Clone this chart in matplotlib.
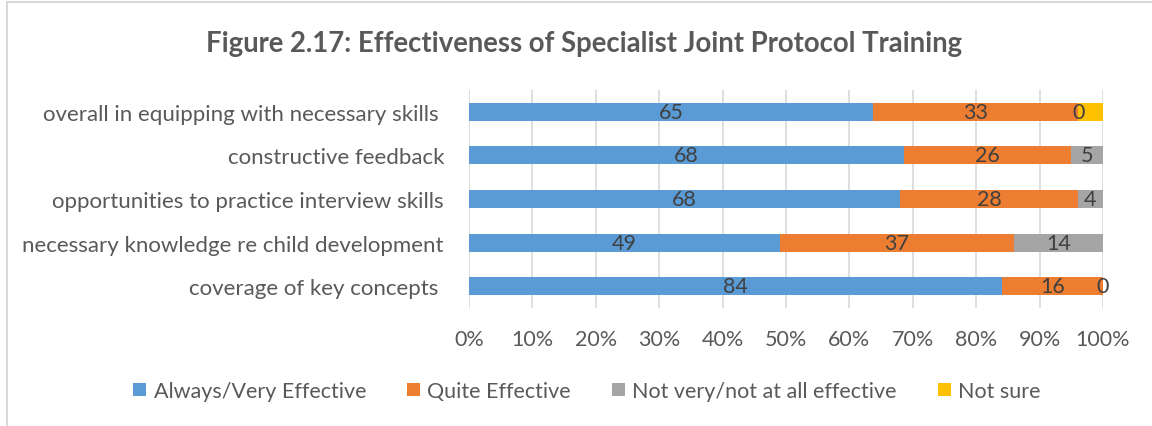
import matplotlib.pyplot as plt
import numpy as np
from matplotlib.patches import Rectangle

plt.rcParams["font.family"] = ["Lato", "DejaVu Sans"]

categories = [
    "coverage of key concepts ",
    "necessary knowledge re child development",
    "opportunities to practice interview skills",
    "constructive feedback",
    "overall in equipping with necessary skills ",
]
always_very = [84, 49, 68, 68, 65]
quite = [16, 37, 28, 26, 33]
not_very = [0, 14, 4, 5, 0]
not_sure = [0, 0, 0, 0, 4]

series = [
    ("Always/Very Effective", always_very, "#5B9BD5", True),
    ("Quite Effective", quite, "#ED7D31", True),
    ("Not very/not at all effective", not_very, "#A5A5A5", True),
    ("Not sure", not_sure, "#FFC000", False),
]
TXT = "#595959"
LBL = "#404040"

totals = np.sum([s[1] for s in series], axis=0).astype(float)
y = np.arange(len(categories))

fig = plt.figure(figsize=(11.52, 4.27), dpi=100)
ax = fig.add_axes([469 / 1152, 1 - 309 / 427, 634 / 1152, 218 / 427])

left = np.zeros(len(categories))
for name, vals, color, show in series:
    w = np.array(vals) / totals
    ax.barh(y, w, left=left, height=0.41, color=color, label=name, zorder=2)
    if show:
        for yi, (l, wi, v) in enumerate(zip(left, w, vals)):
            ax.text(l + wi / 2, yi, str(v), ha="center", va="center",
                    fontsize=15.5, color=LBL, zorder=3)
    left += w

ax.set_xlim(0, 1)
ax.set_ylim(-0.5, len(categories) - 0.5)
ax.set_xticks(np.linspace(0, 1, 11))
ax.set_xticklabels([f"{i}%" for i in range(0, 101, 10)], fontsize=15.5, color=TXT)
ax.set_yticks(y)
ax.set_yticklabels(categories, fontsize=16, color=TXT)
ax.tick_params(axis="both", length=0)
ax.tick_params(axis="x", pad=15)
ax.tick_params(axis="y", pad=18)
ax.grid(axis="x", color="#D9D9D9", linewidth=1.2, zorder=0)
for sp in ax.spines.values():
    sp.set_visible(False)

fig.text(584 / 1152, 1 - 44 / 427, "Figure 2.17: Effectiveness of Specialist Joint Protocol Training",
         ha="center", va="center", fontsize=19.8, fontweight="bold", color=TXT)

fig.legend(loc="center", bbox_to_anchor=(587 / 1152, 1 - 392 / 427), ncol=4, frameon=False,
           fontsize=15.5, labelcolor=TXT, handlelength=0.6, handleheight=0.6,
           handletextpad=0.35, columnspacing=1.9)

# chart border (top and left edges visible in the crop)
fig.patches.append(Rectangle((7 / 1152, -0.1), 1.2, 1 - 3 / 427 + 0.1, transform=fig.transFigure,
                             fill=False, edgecolor="#D9D9D9", linewidth=1.5))

fig.savefig("out.png", dpi=100, facecolor="white")
